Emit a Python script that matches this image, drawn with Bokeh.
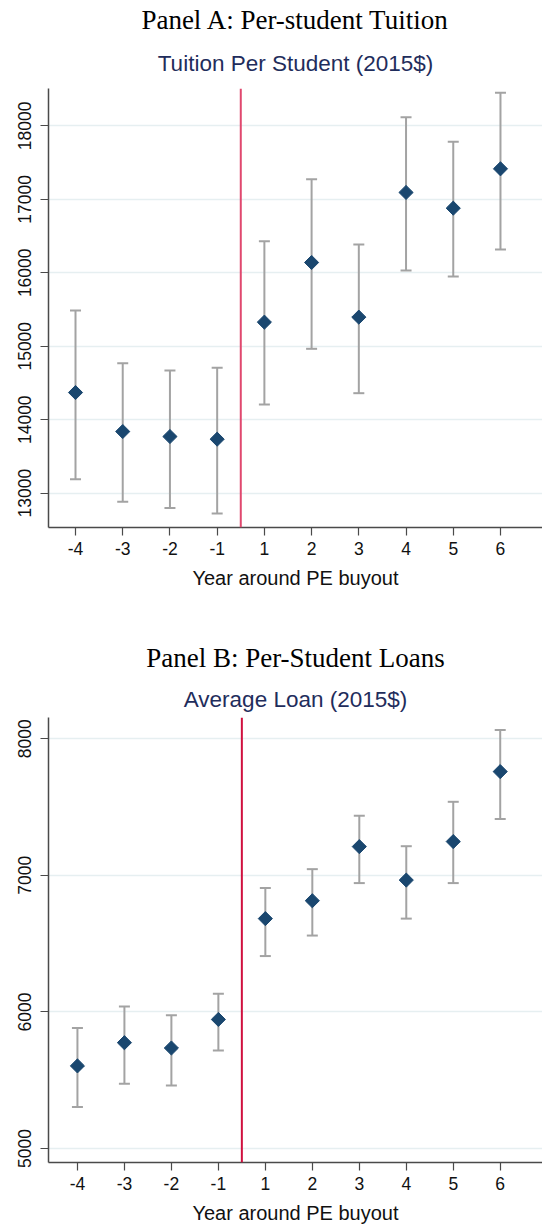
import math
from bokeh.plotting import figure
from bokeh.models import (ColumnDataSource, Whisker, TeeHead, Span, Title, Range1d,
                          FixedTicker)
from bokeh.layouts import column
from bokeh.embed import file_html
from bokeh.resources import INLINE

years = ["-4", "-3", "-2", "-1", "1", "2", "3", "4", "5", "6"]

tuition_est = [14370, 13839, 13771, 13735, 15328, 16140, 15396, 17093, 16879, 17415]
tuition_hi = [15486, 14770, 14670, 14706, 16430, 17274, 16385, 18118, 17782, 18449]
tuition_lo = [13191, 12882, 12800, 12723, 14207, 14965, 14361, 16031, 15949, 16317]

loan_est = [5605, 5775, 5736, 5945, 6683, 6814, 7210, 6965, 7247, 7759]
loan_hi = [5882, 6040, 5976, 6134, 6907, 7045, 7436, 7213, 7538, 8063]
loan_lo = [5304, 5474, 5461, 5717, 6409, 6559, 6943, 6683, 6943, 7412]

tuition_ticks = [13000, 14000, 15000, 16000, 17000, 18000]
loan_ticks = [5000, 6000, 7000, 8000]

SANS = "Liberation Sans"
SERIF = "Liberation Serif"


def make_panel(panel_title, chart_title, est, lo, hi, yticks, yrange, xrange_,
               height, top, bottom, vline_color, chart_standoff, panel_standoff,
               chart_offset):
    xs = list(range(len(years)))
    src = ColumnDataSource(dict(x=xs, est=est, lo=lo, hi=hi))
    p = figure(width=542, height=height, output_backend="svg", toolbar_location=None,
               x_range=Range1d(*xrange_), y_range=Range1d(*yrange),
               min_border_left=48, min_border_right=0,
               min_border_top=top, min_border_bottom=bottom)
    p.outline_line_color = None
    p.background_fill_color = "white"
    p.border_fill_color = "white"

    # titles (first added is closest to the frame)
    p.add_layout(Title(text=chart_title, align="center", offset=chart_offset,
                       text_font=SANS, text_font_size="22.5px", text_font_style="normal",
                       text_color="#1f2d5c", standoff=chart_standoff), "above")
    p.add_layout(Title(text=panel_title, align="center", offset=-24,
                       text_font=SERIF, text_font_size="27px", text_font_style="normal",
                       text_color="#000000", standoff=panel_standoff), "above")

    # grid
    p.xgrid.visible = False
    p.ygrid.ticker = FixedTicker(ticks=yticks)
    p.ygrid.grid_line_color = "#e6eff1"
    p.ygrid.grid_line_width = 1.5

    # axes
    p.xaxis.ticker = FixedTicker(ticks=xs)
    p.xaxis.major_label_overrides = {i: years[i] for i in xs}
    p.xaxis.axis_label = "Year around PE buyout"
    p.yaxis.ticker = FixedTicker(ticks=yticks)
    p.yaxis.major_label_orientation = "vertical"
    for ax in (p.xaxis[0], p.yaxis[0]):
        ax.axis_line_color = "#4a4a4a"
        ax.axis_line_width = 1.5
        ax.major_tick_line_color = "#4a4a4a"
        ax.major_tick_line_width = 1.2
        ax.major_tick_in = 0
        ax.major_tick_out = 8
        ax.minor_tick_line_color = None
        ax.major_label_text_font = SANS
        ax.major_label_text_font_size = "17.5px"
        ax.major_label_text_color = "#111111"
        ax.axis_label_text_font = SANS
        ax.axis_label_text_font_size = "20px"
        ax.axis_label_text_font_style = "normal"
        ax.axis_label_text_color = "#111111"
    p.xaxis.major_label_standoff = 6
    p.xaxis.axis_label_standoff = 9
    p.yaxis.major_label_standoff = 9

    # vertical line between -1 and 1
    p.add_layout(Span(location=3.5, dimension="height", line_color=vline_color,
                      line_width=2))

    # error bars
    p.add_layout(Whisker(source=src, base="x", upper="hi", lower="lo",
                         dimension="height", line_color="#a3a3a3", line_width=2,
                         upper_head=TeeHead(size=11, line_color="#a3a3a3", line_width=2),
                         lower_head=TeeHead(size=11, line_color="#a3a3a3", line_width=2)))

    # point estimates (diamonds)
    p.scatter(x="x", y="est", source=src, marker="square", angle=math.pi / 4,
              size=10, fill_color="#1a476f", line_color="#1a476f")
    return p


pA = make_panel("Panel A: Per-student Tuition", "Tuition Per Student (2015$)",
                tuition_est, tuition_lo, tuition_hi, tuition_ticks,
                (12533, 18508), (-0.572, 9.89), 613, 88, 86, "#e0486e", 25, 3, -11)
pB = make_panel("Panel B: Per-Student Loans", "Average Loan (2015$)",
                loan_est, loan_lo, loan_hi, loan_ticks,
                (4898, 8155), (-0.616, 9.9), 613, 104, 62, "#d0103f", 12, 11, -7)

layout = column(pA, pB, spacing=0)
open("out.html", "w").write(file_html(layout, INLINE))
